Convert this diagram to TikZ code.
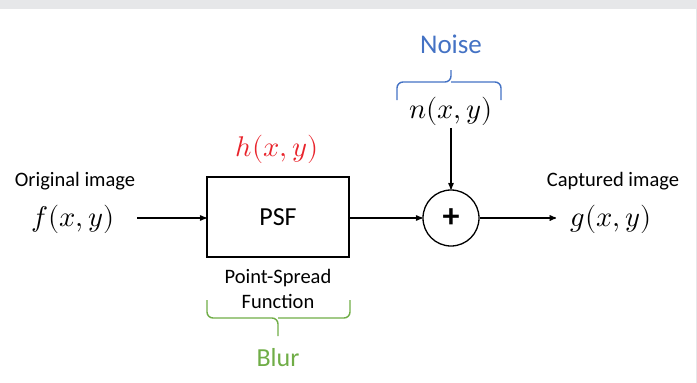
\documentclass[tikz,border=0pt]{standalone}
\usepackage{fontspec}
\usepackage{unicode-math}
\setmainfont{Carlito}
\setmathfont{Latin Modern Math}
\usetikzlibrary{arrows}
\usetikzlibrary{positioning}

\definecolor{psfred}{HTML}{E8232B}
\definecolor{noiseblue}{HTML}{4472C4}
\definecolor{blurgreen}{HTML}{70AD47}
\definecolor{framegray}{HTML}{E6E7E9}

\tikzset{
  label/.style={font=\fontsize{20.5}{24}\selectfont, inner sep=0pt},
  signal/.style={font=\fontsize{28.5}{32}\selectfont, inner sep=0pt},
  block/.style={draw, line width=1.3pt, minimum width=142pt, minimum height=80pt,
    font=\fontsize{26}{28}\selectfont},
  adder/.style={draw, circle, line width=1.3pt, minimum size=56pt, inner sep=0pt,
    font=\fontsize{34}{36}\selectfont\bfseries},
  brace/.style={line width=1.4pt, rounded corners=6pt},
  conn/.style={draw, line width=1.3pt, ->, >=stealth'}
}

\begin{document}
\begin{tikzpicture}[x=1pt, y=-1pt]
  \useasboundingbox (0,0) rectangle (697,383);
  \fill [framegray] (0,0) rectangle (697,9);
  \fill [framegray] (695.5,9) rectangle (697,383);

  % signal path
  \node [label] (in_txt) at (75,181) {Original image};
  \node [signal] (f) at (73,219) {$f(x,y)$};
  \node [block] (psf) at (278,217) {PSF};
  \node [signal, text=psfred] (h) at (277,149) {$h(x,y)$};
  \node [adder] (sum) at (451,218) {+};
  \node [signal] (n) at (451,111) {$n(x,y)$};
  \node [label, text=noiseblue, font=\fontsize{27}{30}\selectfont] (noise) at (451,44) {Noise};
  \node [label] (out_txt) at (613,181) {Captured image};
  \node [signal] (g) at (611,219) {$g(x,y)$};

  \node [label, align=center, font=\fontsize{20.5}{25}\selectfont] (psf_txt) at (278,289)
    {Point-Spread\\Function};
  \node [label, text=blurgreen, font=\fontsize{26}{28}\selectfont] (blur) at (278,358) {Blur};

  % braces
  \draw [brace, blurgreen] (207,300) -- (207,318) -- (278,318) -- (278,336)
    (278,318) -- (350,318) -- (350,300);
  \draw [brace, noiseblue] (397,100) -- (397,82) -- (451,82) -- (451,70)
    (451,82) -- (501,82) -- (501,100);

  \coordinate (f_out) at (137,218);
  \coordinate (n_out) at (451,128);
  \coordinate (g_in) at (556,218);
  \path [conn] (f_out) -- (f_out -| psf.west);
  \path [conn] (psf.east |- sum) -- (sum);
  \path [conn] (n_out) -- (sum);
  \path [conn] (sum) -- (g_in);
\end{tikzpicture}
\end{document}
